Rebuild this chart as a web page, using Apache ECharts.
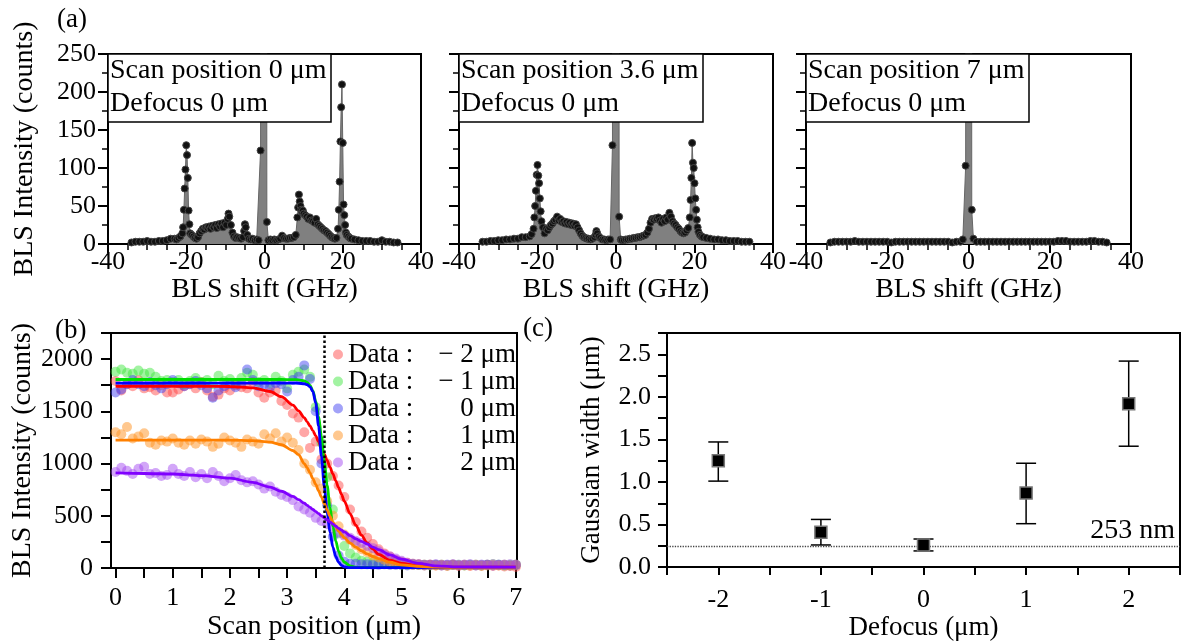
<!DOCTYPE html>
<html>
<head>
<meta charset="utf-8">
<title>BLS scan across edge</title>
<script src="https://cdn.jsdelivr.net/npm/echarts@6.0.0/dist/echarts.min.js"></script>
<style>
html, body { margin: 0; padding: 0; background: #fff; }
#chart { width: 1183px; height: 642px; }
</style>
</head>
<body>
<div id="chart"></div>
<script>
// ---- panel (a): BLS spectra, scan position 0 / 3.6 / 7 um ----
const shiftA1 = [
  -34, -33, -32, -31, -30, -29, -28, -27, -26, -25, -24, -23,
  -22.5, -22, -21.5, -21,
  -20.8, -20.6, -20.4, -20.2, -20, -19.8, -19.6, -19.4, -19.2, -19,
  -18.6, -18.2, -17.8, -17.4, -17, -16.6, -16.2, -15.8, -15.4, -15, -14.6, -14.2, -13.8, -13.4, -13, -12.6, -12.2, -11.8, -11.4, -11, -10.6, -10.2, -9.8, -9.4,
  -9.2, -9, -8.6, -8.2, -7.8, -7.4, -7,
  -6.5, -6, -5.5, -5.2, -5, -4.8, -4.4, -4, -3.5, -3, -2.5, -2, -1.5,
  -1, -0.6, 0.2, 0.6,
  1, 1.5, 2, 2.5, 3, 3.5, 4, 4.5, 5, 5.5, 6, 6.5, 7, 7.5, 8,
  8.4, 8.6, 8.8, 9, 9.2, 9.4, 9.6, 9.8, 10,
  10.4, 10.8, 11.2, 11.6, 12, 12.4, 12.8, 13.2, 13.6, 14, 14.4, 14.8, 15.2, 15.6, 16, 16.4, 16.8, 17.2, 17.6, 18, 18.4,
  18.8, 19, 19.2, 19.4, 19.6, 19.8, 20, 20.2, 20.4, 20.6, 20.8, 21,
  21.4, 21.8, 22.2,
  23, 24, 25, 26, 27, 28, 29, 30, 31, 32, 33, 34
]
const countsA1 = [
  2, 3, 3, 3, 4, 3, 3, 4, 4, 5, 7, 7,
  6, 8, 10, 14,
  22, 45, 73, 98, 130, 117, 87, 44, 26, 14,
  12, 10, 8, 7, 9, 14, 17, 20, 19, 22, 21, 23, 20, 24, 22, 25, 21, 26, 23, 27, 22, 28, 25, 33,
  40, 36, 25, 15, 10, 8, 9,
  8, 7, 9, 17, 26, 22, 12, 7, 6, 7, 5, 6, 5,
  123, 4000, 4000, 29,
  5, 6, 5, 6, 5, 6, 7, 11, 8, 7, 7, 8, 8, 9, 12,
  35, 48, 65, 56, 50, 45, 42, 44, 40,
  38, 36, 33, 35, 31, 30, 28, 33, 26, 24, 22, 20, 18, 17, 15, 13, 11, 9, 8, 7, 8,
  20, 45, 82, 135, 180, 210, 133, 52, 38, 25, 15, 12,
  10, 8, 7,
  6, 5, 4, 4, 4, 3, 3, 5, 3, 3, 2, 2
]

const shiftA2 = [
  -34, -33, -32, -31, -30, -29, -28, -27, -26, -25, -24, -23, -22,
  -21.5, -21,
  -20.8, -20.6, -20.4, -20.2, -20, -19.8, -19.6, -19.4, -19.2, -19,
  -18.6, -18.2, -17.8, -17.4, -17, -16.6, -16.2, -15.8, -15.4, -15, -14.6, -14.2, -13.8, -13.4, -13, -12.6, -12.2, -11.8, -11.4, -11, -10.6, -10.2, -9.8, -9.4, -9,
  -8.6, -8.2, -7.8, -7.4, -7, -6.5, -6, -5.5, -5.2, -5, -4.8, -4.4, -4, -3.5, -3, -2.5, -2, -1.5,
  -0.9, -0.4, 0.4, 0.8,
  1.2, 1.5, 2, 2.5, 3, 3.5, 4, 4.5, 5, 5.5, 6, 6.5, 7, 7.5, 8,
  8.4, 8.8, 9.2, 9.6, 10, 10.4, 10.8, 11.2, 11.6, 12, 12.4, 12.8, 13.2, 13.6, 14, 14.4, 14.8, 15.2, 15.6, 16, 16.4, 16.8, 17.2, 17.6, 18, 18.4,
  18.8, 19, 19.2, 19.4, 19.6, 19.8, 20, 20.2, 20.4, 20.6, 20.8, 21,
  21.4, 21.8, 22.2,
  23, 24, 25, 26, 27, 28, 29, 30, 31, 32, 33, 34
]
const countsA2 = [
  3, 3, 4, 4, 5, 5, 6, 6, 7, 7, 9, 9, 10,
  13, 20,
  35, 50, 70, 91, 104, 90, 80, 60, 43, 30,
  22, 14, 20, 18, 22, 25, 27, 30, 32, 36, 31, 33, 29, 30, 27, 29, 26, 28, 25, 27, 24, 26, 22, 18, 14,
  11, 9, 8, 7, 7, 6, 7, 9, 12, 17, 14, 10, 8, 6, 6, 5, 6, 6,
  130, 4000, 4000, 36,
  6, 5, 5, 6, 6, 7, 7, 8, 8, 9, 9, 10, 11, 12, 15,
  20, 28, 33, 32, 34, 33, 35, 31, 28, 33, 30, 35, 32, 41, 36, 30, 27, 25, 22, 20, 17, 15, 14, 15, 18, 21,
  35, 58, 87, 133, 107, 100, 80, 60, 45, 32, 22, 16,
  12, 10, 9,
  8, 7, 6, 6, 5, 5, 4, 4, 4, 3, 3, 3
]

const shiftA3 = [
  -34, -33, -32, -31, -30, -29, -28, -27, -26, -25, -24, -23, -22, -21, -20, -19, -18,
  -17, -16, -15, -14, -13, -12, -11, -10, -9, -8, -7, -6, -5, -4, -3, -2,
  -1.4, -0.7, -0.3, 0.4, 0.8, 1.2,
  2, 3, 4, 5, 6, 7, 8, 9, 10, 11, 12, 13, 14, 15, 16, 17, 18,
  19, 20, 21, 22, 23, 24, 25, 26, 27, 28, 29, 30, 31, 32, 33, 34
]
const countsA3 = [
  2, 3, 3, 3, 3, 3, 4, 3, 3, 3, 3, 3, 3, 3, 3, 2, 3,
  3, 3, 3, 3, 3, 3, 3, 3, 3, 3, 3, 3, 3, 2, 3, 3,
  6, 103, 4000, 4000, 45, 7,
  3, 3, 3, 3, 3, 3, 3, 3, 3, 3, 3, 3, 3, 3, 3, 3, 3,
  3, 3, 3, 4, 4, 4, 3, 3, 3, 3, 3, 4, 4, 3, 3, 2
]

const spectrumBoxes = [
  'Scan position 0 μm\nDefocus 0 μm',
  'Scan position 3.6 μm\nDefocus 0 μm',
  'Scan position 7 μm\nDefocus 0 μm'
]

// ---- panel (b): edge scans for five defocus values ----
const scanPos = [
  0, 0.1, 0.2, 0.3, 0.4, 0.5, 0.6, 0.7, 0.8, 0.9,
  1, 1.1, 1.2, 1.3, 1.4, 1.5, 1.6, 1.7, 1.8, 1.9,
  2, 2.1, 2.2, 2.3, 2.4, 2.5, 2.6, 2.7, 2.8, 2.9,
  3, 3.1, 3.2, 3.3, 3.4, 3.5, 3.6, 3.7, 3.8, 3.9,
  4, 4.1, 4.2, 4.3, 4.4, 4.5, 4.6, 4.7, 4.8, 4.9,
  5, 5.1, 5.2, 5.3, 5.4, 5.5, 5.6, 5.7, 5.8, 5.9,
  6, 6.1, 6.2, 6.3, 6.4, 6.5, 6.6, 6.7, 6.8, 6.9, 7
]
const scanM2 = [
  1790, 1700, 1760, 1740, 1800, 1720, 1730, 1700, 1750, 1680,
  1680, 1710, 1740, 1760, 1720, 1780, 1700, 1640, 1660, 1720,
  1700, 1750, 1730, 1720, 1780, 1680, 1630, 1680, 1700, 1600,
  1560, 1480, 1440, 1300, 1150, 1210, 1040, 1000, 880, 790,
  680, 560, 440, 350, 290, 230, 180, 140, 110, 80,
  60, 50, 40, 35, 30, 30, 25, 25, 20, 30,
  20, 25, 20, 25, 20, 30, 20, 25, 15, 20, 10
]
const scanM1 = [
  1880, 1900, 1870, 1860, 1890, 1860, 1870, 1830, 1790, 1800,
  1780, 1800, 1760, 1790, 1820, 1780, 1800, 1760, 1840, 1790,
  1810, 1770, 1820, 1870, 1850, 1780, 1800, 1770, 1830, 1790,
  1720, 1850, 1880, 1900, 1830, 1540, 1200, 870, 560, 330,
  210, 140, 100, 70, 60, 50, 45, 40, 35, 35,
  30, 30, 35, 30, 30, 25, 30, 30, 25, 30,
  30, 25, 30, 30, 25, 30, 35, 30, 25, 30, 30
]
const scan0 = [
  1680, 1710, 1760, 1800, 1760, 1740, 1780, 1750, 1720, 1760,
  1800, 1770, 1740, 1760, 1790, 1750, 1720, 1630, 1700, 1740,
  1760, 1730, 1770, 1900, 1800, 1740, 1760, 1730, 1770, 1760,
  1690, 1800, 1830, 1940, 1810, 1500, 1000, 600, 300, 120,
  60, 40, 40, 35, 35, 30, 30, 35, 30, 30,
  30, 25, 30, 30, 25, 30, 30, 25, 30, 30,
  25, 30, 30, 25, 30, 30, 25, 30, 30, 25, 30
]
const scanP1 = [
  1300, 1280, 1350, 1240, 1260, 1290, 1200, 1180, 1220, 1210,
  1240, 1200, 1180, 1220, 1190, 1230, 1210, 1160, 1190, 1250,
  1220, 1200, 1160, 1230, 1210, 1190, 1280, 1240, 1290, 1210,
  1250, 1200, 1130, 1000, 940, 820, 760, 640, 500, 400,
  320, 270, 220, 180, 150, 120, 100, 80, 60, 50,
  40, 35, 30, 30, 25, 30, 25, 30, 25, 30,
  25, 30, 25, 30, 25, 25, 30, 25, 30, 25, 30
]
const scanP2 = [
  920, 960, 930, 900, 950, 970, 900, 910, 880, 890,
  950, 900, 880, 920, 870, 900, 860, 920, 880, 830,
  860, 890, 840, 820, 830, 800, 760, 780, 730, 700,
  680, 650, 590, 560, 530, 480, 450, 420, 380, 340,
  310, 290, 260, 240, 210, 190, 160, 130, 110, 90,
  70, 50, 40, 35, 30, 30, 35, 30, 30, 35,
  30, 30, 35, 30, 30, 30, 35, 30, 30, 35, 30
]

// fitted edge profiles
const fitPos = [
  0, 0.5, 1, 1.5, 2, 2.4, 2.7, 2.9, 3.1, 3.2, 3.3, 3.35, 3.4, 3.45, 3.5, 3.55, 3.6, 3.65, 3.7,
  3.75, 3.8, 3.85, 3.9, 3.95, 4, 4.1, 4.2, 4.3, 4.4, 4.5, 4.6, 4.8, 5, 5.3, 5.6, 6, 7
]
const fitM2 = [
  1740, 1740, 1740, 1740, 1738, 1725, 1690, 1640, 1560, 1505, 1440, 1400, 1360, 1315, 1265, 1210, 1150, 1090, 1030,
  965, 900, 835, 770, 705, 640, 520, 410, 315, 240, 180, 130, 75, 45, 20, 10, 8, 8
]
const fitM1 = [
  1805, 1805, 1805, 1805, 1805, 1805, 1805, 1805, 1804, 1802, 1792, 1778, 1750, 1698, 1600, 1455, 1260, 1020, 790,
  580, 400, 260, 160, 95, 55, 20, 8, 5, 5, 5, 5, 5, 5, 5, 5, 5, 5
]
const fit0 = [
  1770, 1770, 1770, 1770, 1770, 1770, 1770, 1770, 1770, 1769, 1764, 1755, 1735, 1690, 1580, 1360, 1070, 780, 530,
  340, 200, 110, 55, 25, 10, 4, 3, 3, 3, 3, 3, 3, 3, 3, 3, 3, 3
]
const fitP1 = [
  1225, 1225, 1225, 1225, 1224, 1220, 1205, 1180, 1125, 1085, 1000, 960, 910, 855, 800, 740, 680, 615, 555,
  495, 440, 395, 355, 320, 290, 240, 200, 165, 135, 110, 90, 55, 30, 15, 8, 6, 6
]
const fitP2 = [
  910, 905, 900, 885, 860, 820, 775, 735, 685, 655, 620, 600, 580, 560, 540, 520, 500, 480, 460,
  440, 420, 400, 380, 362, 345, 310, 280, 255, 230, 200, 175, 125, 85, 45, 20, 10, 8
]
const defocusNames = ['− 2 μm', '− 1 μm', '0 μm', '1 μm', '2 μm']
const scanMarker = 3.65

// ---- panel (c): fitted Gaussian width vs defocus ----
const defocus = [-2, -1, 0, 1, 2]
const gaussWidth = [1.25, 0.41, 0.26, 0.87, 1.92]
const widthLow = [1.01, 0.26, 0.19, 0.51, 1.42]
const widthHigh = [1.47, 0.56, 0.33, 1.22, 2.42]
const resolutionLine = 0.253

// tick positions
const bTicksX = [0, 0.5, 1, 1.5, 2, 2.5, 3, 3.5, 4, 4.5, 5, 5.5, 6, 6.5, 7]
const bLabelsX = [0, 1, 2, 3, 4, 5, 6, 7]
const bTicksY = [0, 250, 500, 750, 1000, 1250, 1500, 1750, 2000, 2250]
const bLabelsY = [0, 500, 1000, 1500, 2000]
const cTicksY = [0, 0.25, 0.5, 0.75, 1, 1.25, 1.5, 1.75, 2, 2.25, 2.5, 2.75]
const cLabelsY = [0, 0.5, 1, 1.5, 2, 2.5]

const SERIF = 'Liberation Serif'
const colors = ['#ff0000', '#00dd00', '#0000ff', '#ff8000', '#8000ff']
const dotColors = ['rgba(255,70,70,0.6)', 'rgba(60,230,60,0.6)', 'rgba(60,60,240,0.6)', 'rgba(255,150,40,0.65)', 'rgba(160,70,240,0.6)']

function zip(xs, ys) {
  return xs.map((x, i) => [x, ys[i]])
}

const black = '#000'
const gridStyle = { show: true, borderColor: black, borderWidth: 2, backgroundColor: 'transparent' }
const tickFont = { color: black, fontFamily: SERIF, fontSize: 26 }
const nameFont = { color: black, fontFamily: SERIF, fontSize: 28 }

function spectrumXAxis(idx) {
  return {
    type: 'value',
    gridIndex: idx,
    min: -40,
    max: 40,
    interval: 20,
    axisLine: { show: true, onZero: false, lineStyle: { color: black, width: 2 } },
    axisTick: { show: true, length: 9, lineStyle: { color: black, width: 2 } },
    minorTick: { show: true, splitNumber: 4, length: 6, lineStyle: { color: black, width: 1.5 } },
    splitLine: { show: false },
    axisLabel: Object.assign({ margin: 5 }, tickFont),
    name: 'BLS shift (GHz)',
    nameLocation: 'middle',
    nameGap: 25,
    nameTextStyle: nameFont
  }
}

function spectrumYAxis(idx) {
  const axis = {
    type: 'value',
    gridIndex: idx,
    min: 0,
    max: 250,
    interval: 50,
    axisLine: { show: true, onZero: false, lineStyle: { color: black, width: 2 } },
    axisTick: { show: true, length: 10, lineStyle: { color: black, width: 2 } },
    minorTick: { show: true, splitNumber: 2, length: 6, lineStyle: { color: black, width: 1.5 } },
    splitLine: { show: false },
    axisLabel: Object.assign({ show: idx === 0, margin: 12 }, tickFont)
  }
  if (idx === 0) {
    axis.name = 'BLS Intensity (counts)'
    axis.nameLocation = 'middle'
    axis.nameGap = 69
    axis.nameTextStyle = nameFont
  }
  return axis
}

function spectrumSeries(idx, xs, ys) {
  return {
    type: 'line',
    xAxisIndex: idx,
    yAxisIndex: idx,
    data: zip(xs, ys),
    symbol: 'circle',
    symbolSize: 7,
    showAllSymbol: true,
    clip: true,
    itemStyle: { color: '#111', borderColor: '#444', borderWidth: 1 },
    lineStyle: { color: '#666', width: 1 },
    areaStyle: { color: '#808080', opacity: 1 },
    z: 2
  }
}

function renderErrorBar(params, api) {
  const x = api.value(0)
  const lo = api.coord([x, api.value(1)])
  const hi = api.coord([x, api.value(2)])
  const half = 10
  const style = { stroke: black, lineWidth: 1.5 }
  return {
    type: 'group',
    children: [
      { type: 'line', shape: { x1: lo[0], y1: lo[1], x2: hi[0], y2: hi[1] }, style: style },
      { type: 'line', shape: { x1: hi[0] - half, y1: hi[1], x2: hi[0] + half, y2: hi[1] }, style: style },
      { type: 'line', shape: { x1: lo[0] - half, y1: lo[1], x2: lo[0] + half, y2: lo[1] }, style: style }
    ]
  }
}

const scanSets = [scanM2, scanM1, scan0, scanP1, scanP2]
const fitSets = [fitM2, fitM1, fit0, fitP1, fitP2]

const series = [
  spectrumSeries(0, shiftA1, countsA1),
  spectrumSeries(1, shiftA2, countsA2),
  spectrumSeries(2, shiftA3, countsA3)
]
scanSets.forEach((vals, i) => {
  series.push({
    name: defocusNames[i],
    type: 'scatter',
    xAxisIndex: 3,
    yAxisIndex: 3,
    data: zip(scanPos, vals),
    symbolSize: 10,
    itemStyle: { color: dotColors[i] },
    z: 2
  })
})
fitSets.forEach((vals, i) => {
  const s = {
    type: 'line',
    xAxisIndex: 3,
    yAxisIndex: 3,
    data: zip(fitPos, vals),
    showSymbol: false,
    smooth: 0.3,
    smoothMonotone: 'x',
    lineStyle: { color: colors[i], width: 2.8 },
    z: 3
  }
  if (i === fitSets.length - 1) {
    s.markLine = {
      silent: true,
      symbol: 'none',
      label: { show: false },
      lineStyle: { type: 'dotted', color: black, width: 2.5 },
      data: [{ xAxis: scanMarker }]
    }
  }
  series.push(s)
})
series.push({
  type: 'custom',
  xAxisIndex: 4,
  yAxisIndex: 4,
  renderItem: renderErrorBar,
  data: defocus.map((d, i) => [d, widthLow[i], widthHigh[i]]),
  encode: { x: 0, y: [1, 2] },
  z: 3
})
series.push({
  type: 'scatter',
  xAxisIndex: 4,
  yAxisIndex: 4,
  data: zip(defocus, gaussWidth),
  symbol: 'rect',
  symbolSize: 12,
  itemStyle: { color: '#000', borderColor: '#777', borderWidth: 1.5, opacity: 1 },
  z: 5,
  markLine: {
    silent: true,
    symbol: 'none',
    lineStyle: { type: 'dotted', color: '#444', width: 1.3 },
    label: { show: true, position: 'insideEndTop', formatter: '253 nm', color: black, fontFamily: SERIF, fontSize: 28, distance: [5, 1] },
    data: [{ yAxis: resolutionLine }]
  }
})

const boxStyle = { color: black, fontFamily: SERIF, fontSize: 28, fontWeight: 'normal', lineHeight: 33 }
const boxLefts = [108, 459, 806]
const panelFont = { color: black, fontFamily: SERIF, fontSize: 27, fontWeight: 'normal' }

const option = {
  animation: false,
  backgroundColor: '#fff',
  title: spectrumBoxes.map((txt, i) => ({
    text: txt,
    left: boxLefts[i],
    top: 54,
    padding: [0, 5, 2, 2],
    backgroundColor: '#fff',
    borderColor: black,
    borderWidth: 1.5,
    textStyle: boxStyle
  })).concat([
    { text: '(a)', left: 57, top: 6, padding: 0, textStyle: panelFont },
    { text: '(b)', left: 55, top: 317, padding: 0, textStyle: panelFont },
    { text: '(c)', left: 523, top: 315, padding: 0, textStyle: panelFont }
  ]),
  legend: {
    data: defocusNames,
    left: 328,
    top: 336,
    orient: 'vertical',
    itemGap: 0,
    icon: 'circle',
    itemWidth: 10,
    itemHeight: 10,
    selectedMode: false,
    formatter: n => '{a|Data :}{b|' + n + '}',
    textStyle: {
      color: black,
      fontFamily: SERIF,
      fontSize: 27,
      lineHeight: 26,
      rich: {
        a: { color: black, fontFamily: SERIF, fontSize: 27, lineHeight: 26, width: 84 },
        b: { color: black, fontFamily: SERIF, fontSize: 27, lineHeight: 26, width: 84, align: 'right' }
      }
    }
  },
  grid: [
    Object.assign({ left: 108, top: 54, width: 313, height: 190 }, gridStyle),
    Object.assign({ left: 459, top: 54, width: 314, height: 190 }, gridStyle),
    Object.assign({ left: 806, top: 54, width: 325, height: 190 }, gridStyle),
    Object.assign({ left: 111, top: 333, width: 406, height: 236 }, gridStyle),
    Object.assign({ left: 667, top: 333, width: 513, height: 236 }, gridStyle)
  ],
  xAxis: [
    spectrumXAxis(0),
    spectrumXAxis(1),
    spectrumXAxis(2),
    {
      type: 'value',
      gridIndex: 3,
      min: -0.08,
      max: 7.02,
      axisLine: { show: true, onZero: false, lineStyle: { color: black, width: 2 } },
      axisTick: { show: true, length: 10, customValues: bTicksX, lineStyle: { color: black, width: 2 } },
      splitLine: { show: false },
      axisLabel: Object.assign({ margin: 17, customValues: bLabelsX }, tickFont),
      name: 'Scan position (μm)',
      nameLocation: 'middle',
      nameGap: 45,
      nameTextStyle: nameFont
    },
    {
      type: 'value',
      gridIndex: 4,
      min: -2.5,
      max: 2.5,
      interval: 0.5,
      axisLine: { show: true, onZero: false, lineStyle: { color: black, width: 2 } },
      axisTick: { show: true, length: 8, lineStyle: { color: black, width: 2 } },
      splitLine: { show: false },
      axisLabel: Object.assign({
        margin: 20,
        formatter: v => (Number.isInteger(v) ? String(v) : '')
      }, tickFont),
      name: 'Defocus (μm)',
      nameLocation: 'middle',
      nameGap: 43,
      nameTextStyle: { color: black, fontFamily: SERIF, fontSize: 27 }
    }
  ],
  yAxis: [
    spectrumYAxis(0),
    spectrumYAxis(1),
    spectrumYAxis(2),
    {
      type: 'value',
      gridIndex: 3,
      min: 0,
      max: 2250,
      axisLine: { show: true, onZero: false, lineStyle: { color: black, width: 2 } },
      axisTick: { show: true, length: 10, customValues: bTicksY, lineStyle: { color: black, width: 2 } },
      splitLine: { show: false },
      axisLabel: Object.assign({ margin: 18, customValues: bLabelsY, formatter: v => String(v) }, tickFont),
      name: 'BLS Intensity (counts)',
      nameLocation: 'middle',
      nameGap: 73,
      nameTextStyle: nameFont
    },
    {
      type: 'value',
      gridIndex: 4,
      min: 0,
      max: 2.75,
      axisLine: { show: true, onZero: false, lineStyle: { color: black, width: 2 } },
      axisTick: { show: true, length: 9, customValues: cTicksY, lineStyle: { color: black, width: 2 } },
      splitLine: { show: false },
      axisLabel: Object.assign({
        margin: 16,
        customValues: cLabelsY,
        formatter: v => v.toFixed(1)
      }, tickFont),
      name: 'Gaussian width (μm)',
      nameLocation: 'middle',
      nameGap: 62,
      nameTextStyle: { color: black, fontFamily: SERIF, fontSize: 27 }
    }
  ],
  series: series
}

const chart = echarts.init(document.getElementById('chart'))
chart.setOption(option)
window.addEventListener('resize', () => chart.resize())
</script>
</body>
</html>
